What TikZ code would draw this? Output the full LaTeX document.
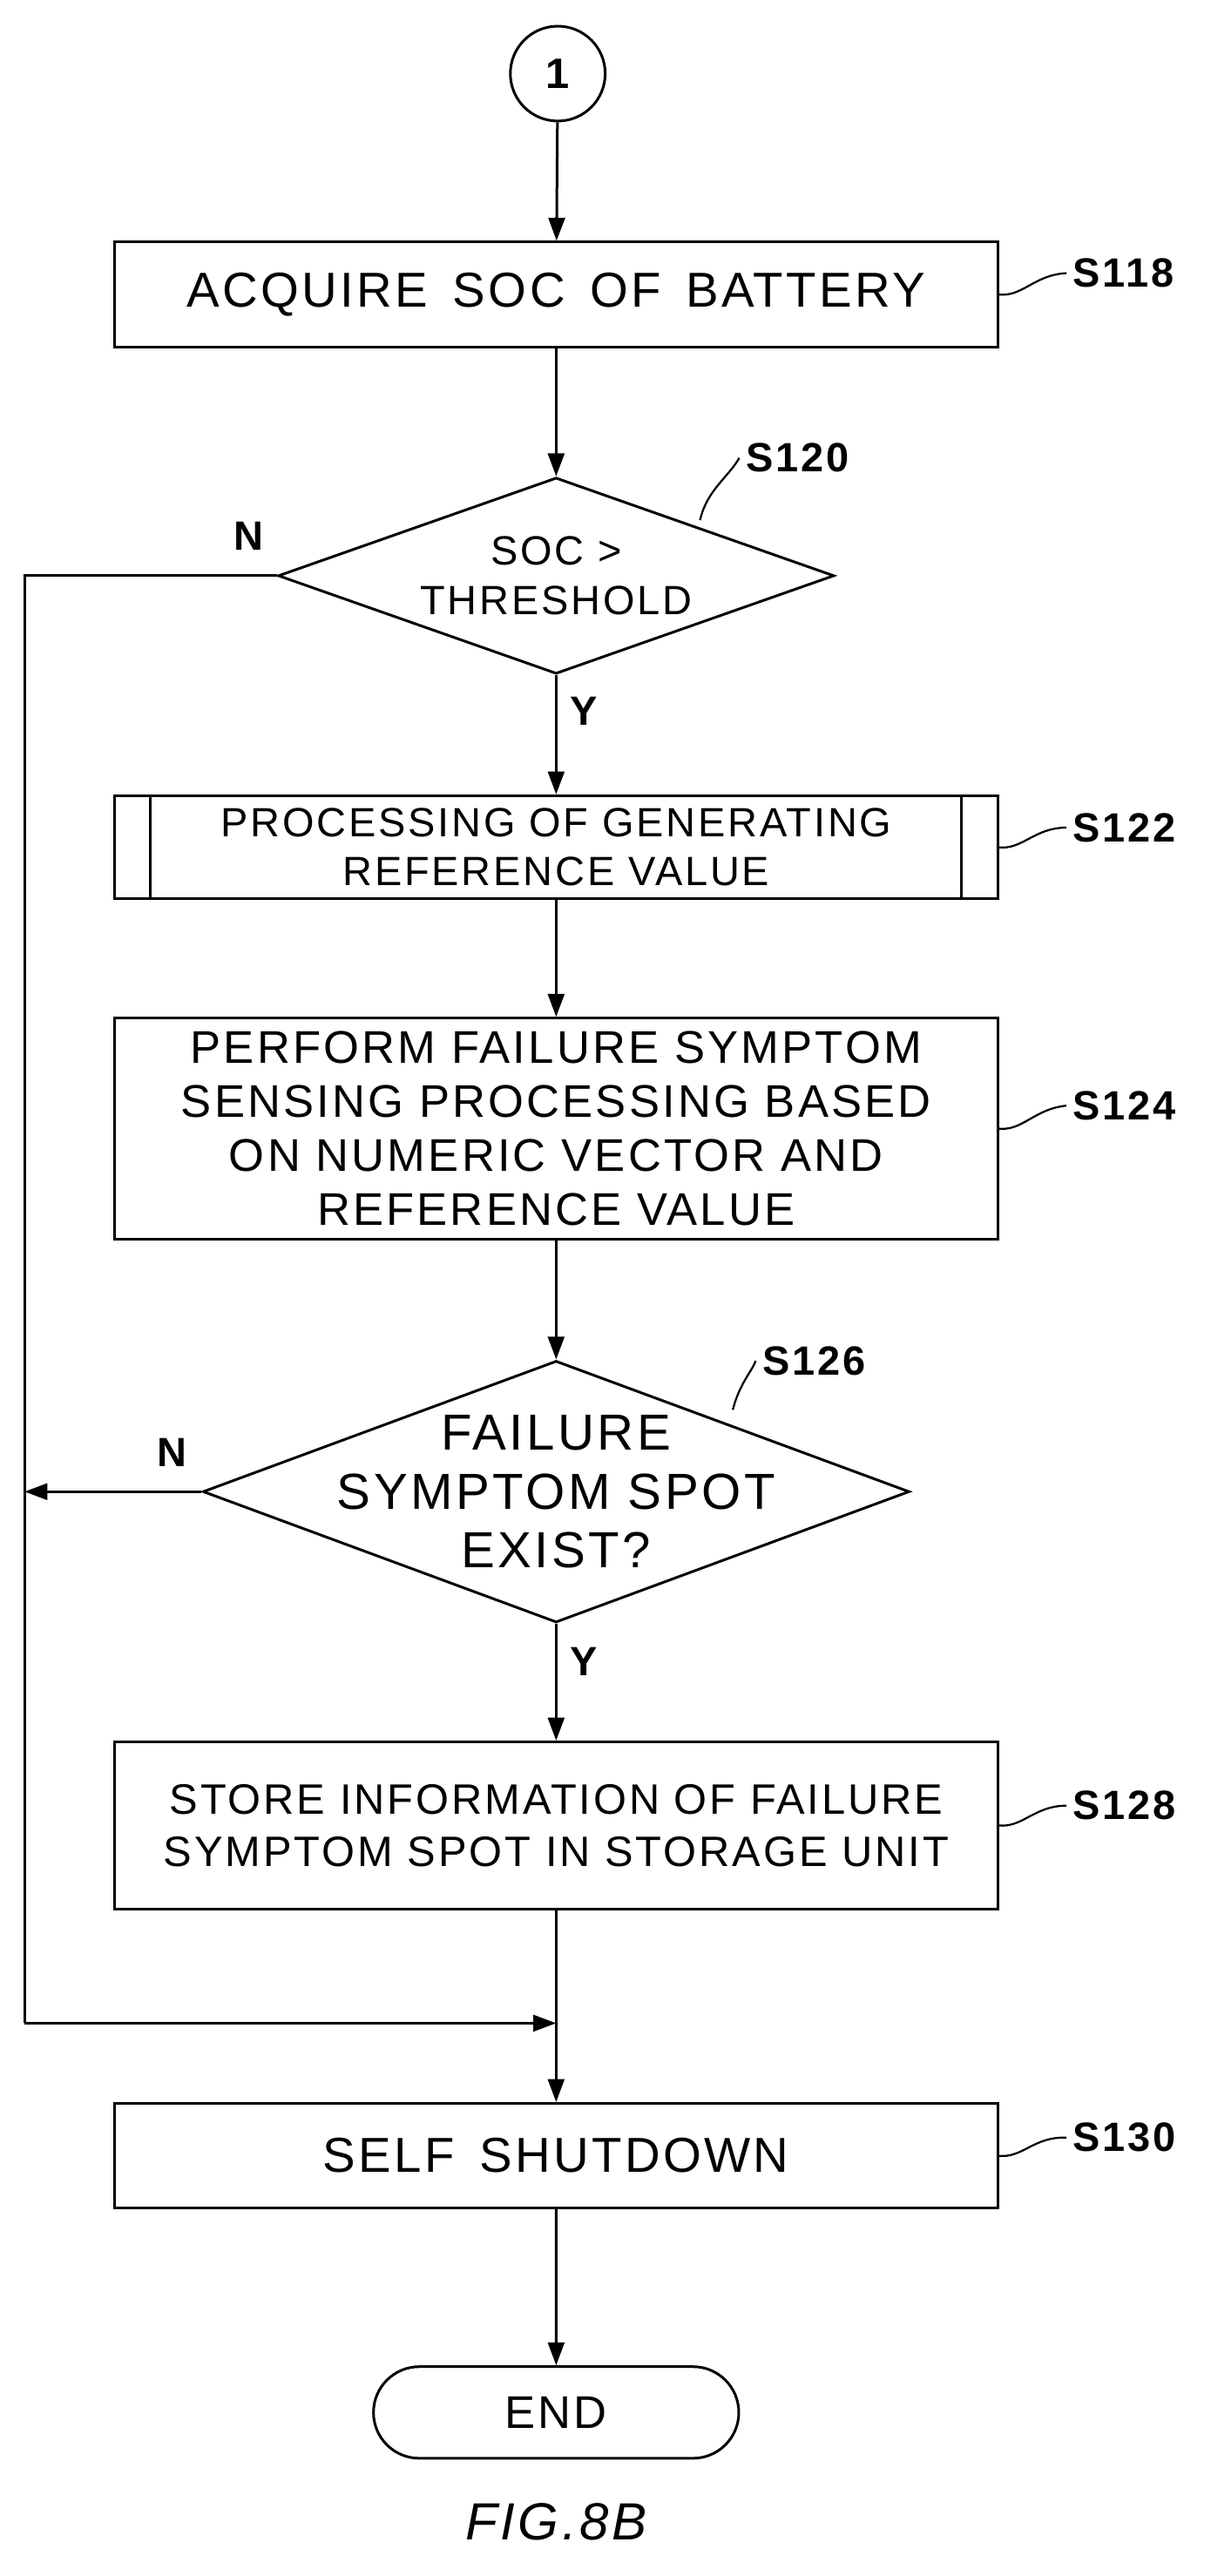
\documentclass[tikz,border=0pt]{standalone}
\usepackage{fontspec}
\setmainfont{Liberation Sans}[LetterSpace=6]
\usetikzlibrary{shapes.geometric,shapes.misc,arrows.meta}
\begin{document}
\begin{tikzpicture}[x=1pt,y=-1pt,
  line width=1.6pt,
  box/.style={draw,minimum width=540pt,align=center,font=\fontsize{30}{35}\selectfont,inner sep=0pt},
  sbox/.style={box,font=\fontsize{25}{30}\selectfont},
  dia/.style={draw,diamond,inner sep=0pt},
  txt/.style={align=center},
  lab/.style={font=\bfseries\fontsize{25}{28}\selectfont,anchor=west},
  arr/.style={-{Triangle[length=14pt,width=10pt]}}]
\useasboundingbox (0,0) rectangle (740,1575);
\node[draw,circle,minimum size=58pt,inner sep=0pt,font=\bfseries\fontsize{26}{30}\selectfont] (c1) at (341,45) {1};
\node[box,minimum height=64pt] (s118) at (340,180) {ACQUIRE\, SOC\, OF\, BATTERY};
\node[dia,minimum width=340pt,minimum height=120pt] (s120) at (340,352) {};
\node[txt,font=\fontsize{25}{30}\selectfont] (t120) at (340,352) {SOC >\\THRESHOLD};
\node[sbox,minimum height=63pt] (s122) at (340,518) {PROCESSING OF GENERATING\\REFERENCE VALUE};
\draw (92,487) -- (92,550) (588,487) -- (588,550);
\node[sbox,minimum height=135pt,font=\fontsize{28}{33}\selectfont] (s124) at (340,690) {PERFORM FAILURE SYMPTOM\\SENSING PROCESSING BASED\\ON NUMERIC VECTOR AND\\REFERENCE VALUE};
\node[dia,minimum width=432pt,minimum height=160pt] (s126) at (340,912) {};
\node[txt,font=\fontsize{31}{36}\selectfont] (t126) at (340,912) {FAILURE\\SYMPTOM SPOT\\EXIST?};
\node[sbox,minimum height=102pt,font=\fontsize{26}{32}\selectfont] (s128) at (340,1116) {STORE INFORMATION OF FAILURE\\SYMPTOM SPOT IN STORAGE UNIT};
\node[box,minimum height=64pt] (s130) at (340,1318) {SELF\, SHUTDOWN};
\node[draw,rounded rectangle,minimum width=230pt,minimum height=56pt,font=\fontsize{28}{32}\selectfont] (end) at (340,1475) {END};
\node[font=\itshape\fontsize{32}{34}\selectfont] (fig) at (340,1542) {FIG.8B};
\coordinate (lt) at (15,352);
\coordinate (lb) at (15,1237);
\coordinate (mj) at (340,1237);
\draw[arr] (c1) -- (s118);
\draw[arr] (s118) -- (s120);
\draw[arr] (s120) -- (s122);
\draw[arr] (s122) -- (s124);
\draw[arr] (s124) -- (s126);
\draw[arr] (s126) -- (s128);
\draw[arr] (s128) -- (s130);
\draw[arr] (s130) -- (end);
\draw (s120.west) -- (lt) -- (lb);
\draw[arr] (lb) -- (mj);
\draw[arr] (s126.west) -- (15,912);
\node[font=\bfseries\fontsize{25}{28}\selectfont] (n1) at (152,328) {N};
\node[font=\bfseries\fontsize{25}{28}\selectfont] (y1) at (357,435) {Y};
\node[font=\bfseries\fontsize{25}{28}\selectfont] (n2) at (105,888) {N};
\node[font=\bfseries\fontsize{25}{28}\selectfont] (y2) at (357,1016) {Y};
\node[lab] (l118) at (652,167) {S118};
\node[lab] (l120) at (452,280) {S120};
\node[lab] (l122) at (652,506) {S122};
\node[lab] (l124) at (652,676) {S124};
\node[lab] (l126) at (462,832) {S126};
\node[lab] (l128) at (652,1104) {S128};
\node[lab] (l130) at (652,1307) {S130};
\foreach \n/\y in {118/180,122/518,124/690,128/1116,130/1318}{
  \draw[line width=1.2pt] (610,\y) .. controls (625,\y+2) and (632,\y-12) .. (l\n.west);}
\draw[line width=1.2pt] (428,318) .. controls (432,300) and (445,292) .. (l120.west);
\draw[line width=1.2pt] (448,862) .. controls (452,846) and (460,838) .. (l126.west);
\end{tikzpicture}
\end{document}
